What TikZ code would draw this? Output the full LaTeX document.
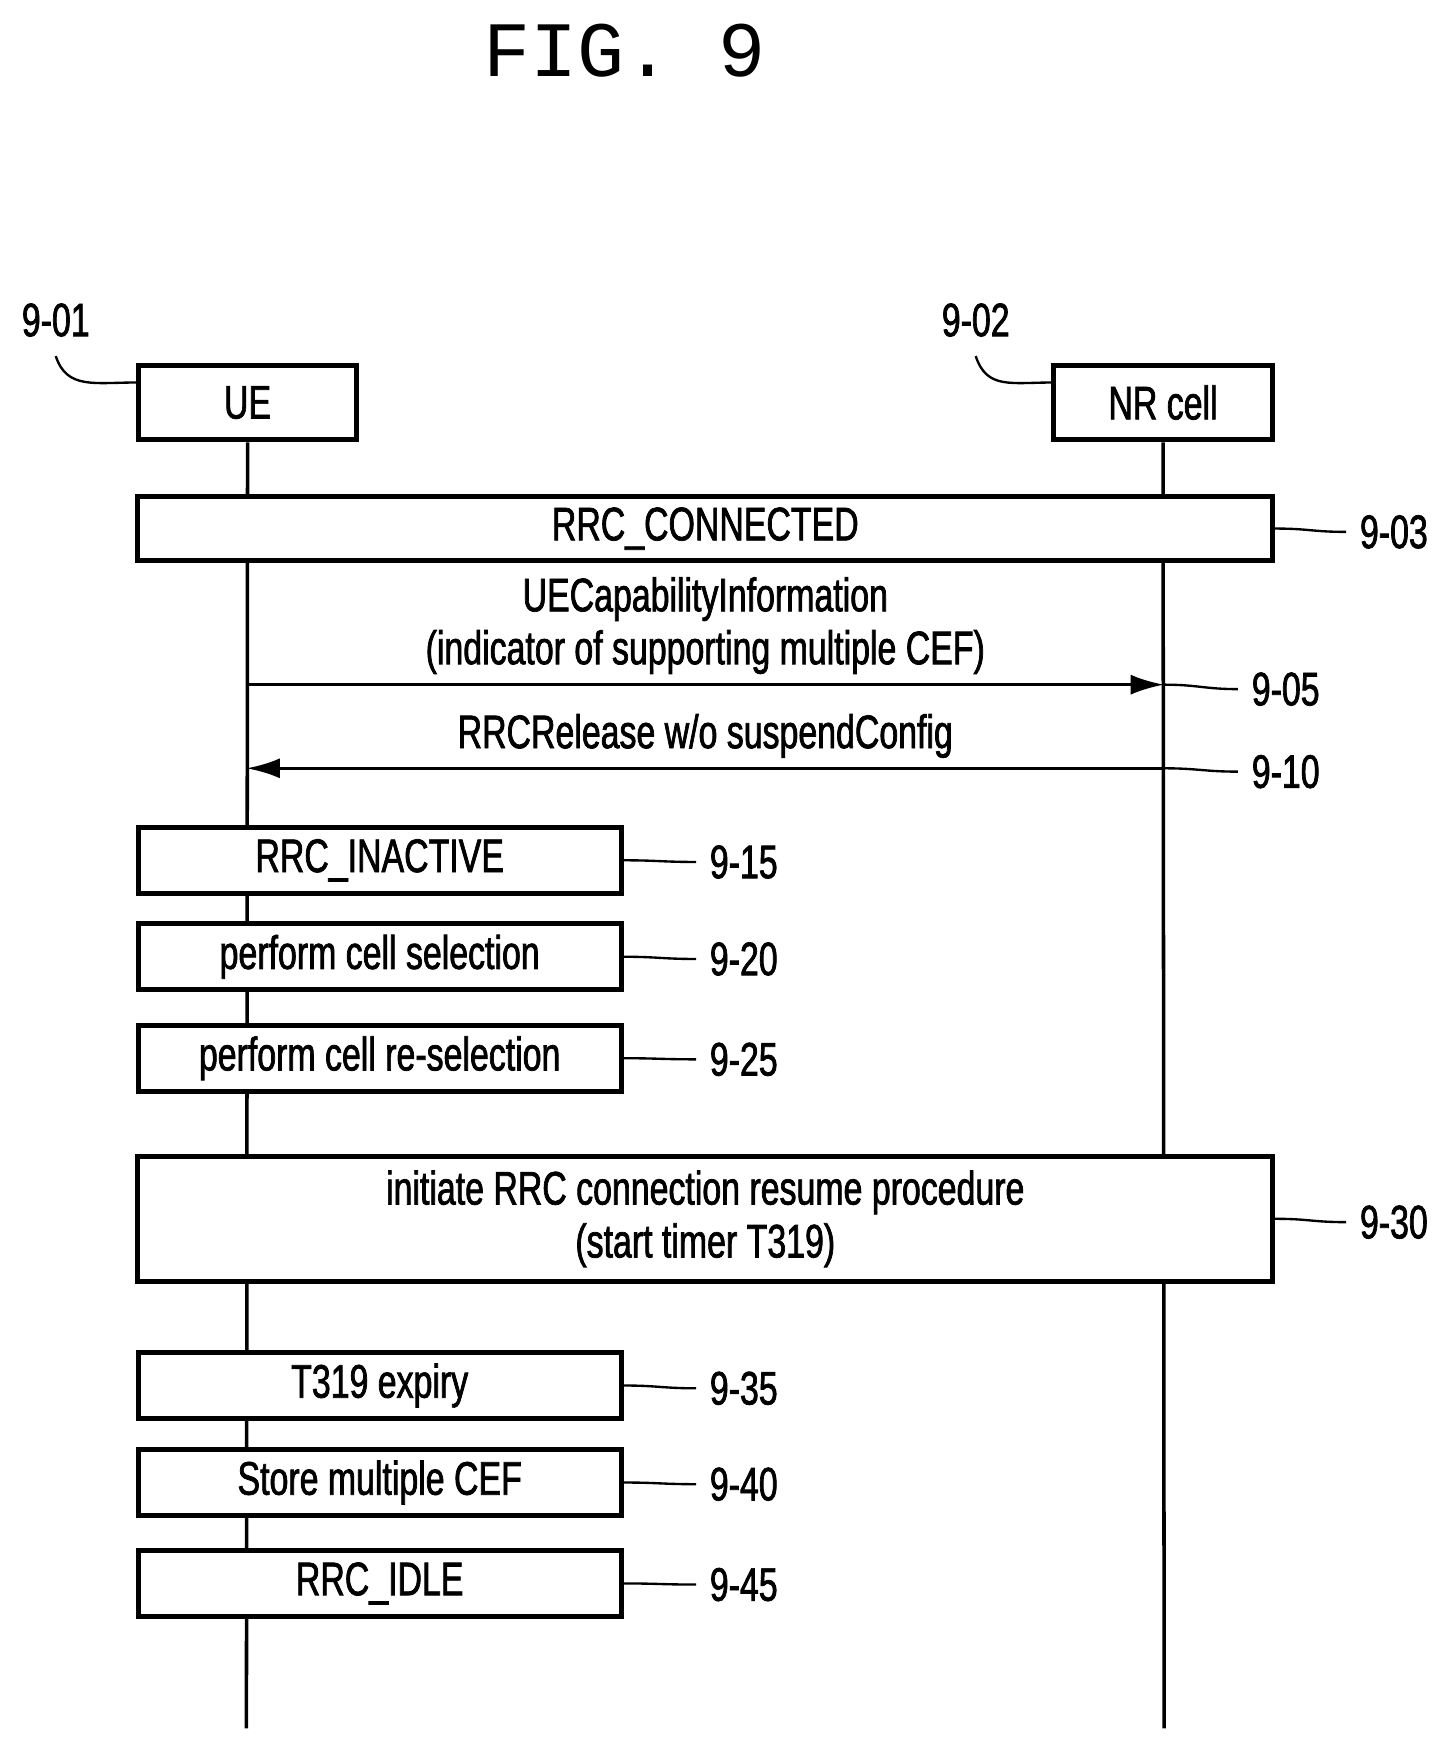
\documentclass[tikz,border=0pt]{standalone}
\usepackage{fontspec}
\setmainfont{Liberation Sans}[FakeStretch=0.72,FakeBold=1.5]
\newfontfamily\figfont{Liberation Mono}
\usetikzlibrary{arrows.meta,positioning}
\begin{document}
\begin{tikzpicture}[x=0.01cm,y=-0.01cm,
    box/.style={draw,line width=1.3pt,font=\fontsize{12}{13.5}\selectfont,align=center,inner sep=0pt},
    ent/.style={box,minimum width=1.96cm,minimum height=0.67cm},
    state/.style={box,minimum width=4.33cm,minimum height=0.59cm},
    wide/.style={box,minimum width=10.17cm},
    tag/.style={font=\fontsize{12}{13.5}\selectfont},
    msg/.style={line width=0.9pt,-{Latex[length=3mm,width=1.8mm]}},
    lead/.style={line width=0.6pt},
    wig/.style={lead,to path={.. controls +(30,0) and +(-25,0) .. ($(\tikztotarget)+(-5,0)$) -- (\tikztotarget)}}]
    % page frame
    \useasboundingbox (0,0) rectangle (1300,1564);
    \node[font=\figfont\fontsize{20}{24}\selectfont] (title) at (560,45) {FIG. 9};

    % entities
    \node[ent] (ue) at (222,361) {UE};
    \node[ent] (nr) at (1043,361) {NR cell};
    \node[tag] (t01) at (50,287) {9-01};
    \node[tag] (t02) at (875,287) {9-02};
    \draw[lead] (t01.south) ++(0,5) .. controls +(10,30) and +(-40,0) .. (124,343);
    \draw[lead] (t02.south) ++(0,5) .. controls +(10,30) and +(-40,0) .. (946,343);

    % lifelines
    \coordinate (ueend) at (221,1550);
    \coordinate (nrend) at (1044,1550);
    \draw[line width=0.9pt] (ue.south) -- (ueend);
    \draw[line width=0.9pt] (nr.south) -- (nrend);

    % connected state
    \node[wide,minimum height=0.58cm,fill=white] (conn) at (632.5,474) {RRC\_CONNECTED};
    \node[tag] (t03) at (1250,477) {9-03};
    \draw[lead] (conn.east) .. controls +(30,0) and +(-30,0) .. (t03.west);

    % messages
    \coordinate (m1a) at (221,614);
    \coordinate (m1b) at (1044,614);
    \draw[msg] (m1a) -- (m1b);
    \node[tag,align=center] (m1) at (632.5,561) {UECapabilityInformation\\(indicator of supporting multiple CEF)};
    \node[tag] (t05) at (1153,618) {9-05};
    \draw[lead] (m1b) .. controls +(30,0) and +(-30,0) .. (t05.west);

    \coordinate (m2a) at (1044,689);
    \coordinate (m2b) at (221,689);
    \draw[msg] (m2a) -- (m2b);
    \node[tag] (m2) at (632.5,660) {RRCRelease w/o suspendConfig};
    \node[tag] (t10) at (1153,692) {9-10};
    \draw[lead] (m2a) .. controls +(30,0) and +(-30,0) .. (t10.west);

    % UE states
    \node[state,fill=white] (inact) at (340.5,771.5) {RRC\_INACTIVE};
    \node[state,fill=white] (sel) at (340.5,858) {perform cell selection};
    \node[state,fill=white] (resel) at (340.5,949) {perform cell re-selection};
    \node[tag] (t15) at (667,773) {9-15};
    \node[tag] (t20) at (667,860) {9-20};
    \node[tag] (t25) at (667,950) {9-25};
    \draw[lead] (inact.east) .. controls +(30,0) and +(-30,0) .. (t15.west);
    \draw[lead] (sel.east) .. controls +(30,0) and +(-30,0) .. (t20.west);
    \draw[lead] (resel.east) .. controls +(30,0) and +(-30,0) .. (t25.west);

    % resume procedure
    \node[wide,minimum height=1.12cm,fill=white] (resume) at (632.5,1093) {initiate RRC connection resume procedure\\(start timer T319)};
    \node[tag] (t30) at (1250,1096) {9-30};
    \draw[lead] (resume.east) .. controls +(30,0) and +(-30,0) .. (t30.west);

    \node[state,fill=white] (expiry) at (340.5,1242.5) {T319 expiry};
    \node[state,fill=white] (store) at (340.5,1329.5) {Store multiple CEF};
    \node[state,fill=white] (idle) at (340.5,1420) {RRC\_IDLE};
    \node[tag] (t35) at (667,1245) {9-35};
    \node[tag] (t40) at (667,1331) {9-40};
    \node[tag] (t45) at (667,1421) {9-45};
    \draw[lead] (expiry.east) .. controls +(30,0) and +(-30,0) .. (t35.west);
    \draw[lead] (store.east) .. controls +(30,0) and +(-30,0) .. (t40.west);
    \draw[lead] (idle.east) .. controls +(30,0) and +(-30,0) .. (t45.west);
\end{tikzpicture}
\end{document}
